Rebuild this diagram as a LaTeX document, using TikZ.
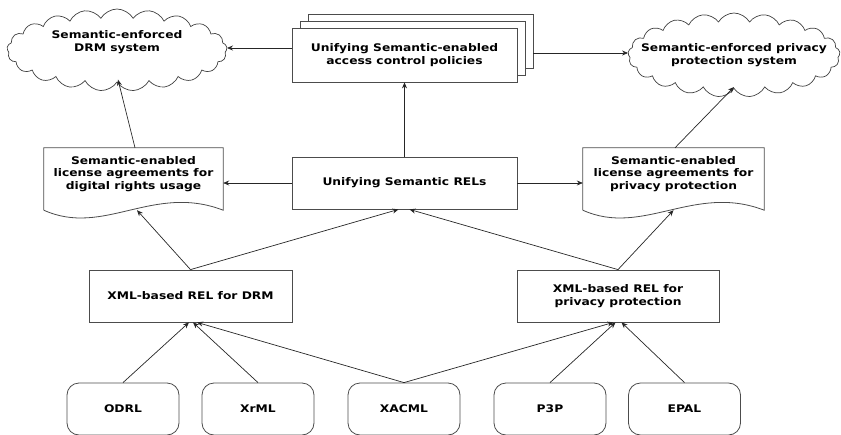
\documentclass[tikz,border=0pt]{standalone}
\usepackage{fontspec}
\setmainfont{DejaVu Sans}[FakeStretch=1.17]
\usetikzlibrary{shapes.symbols,arrows.meta,calc}
\begin{document}
\begin{tikzpicture}[x=1pt,y=-1pt,
  every node/.style={font=\bfseries\fontsize{10.5}{12.5}\selectfont, align=center, inner sep=0pt},
  box/.style={draw=black!70, line width=0.8pt, fill=white, minimum height=52pt},
  rbox/.style={draw=black!70, line width=0.8pt, rounded corners=12pt, minimum width=112pt, minimum height=52pt},
  cloudy/.style={cloud, draw=black!75, line width=0.7pt, cloud puffs=21, cloud puff arc=120, cloud ignores aspect},
  doc/.style={minimum height=62pt},
  docline/.style={draw=black!70, line width=0.8pt},
  arr/.style={draw=black!85, line width=0.7pt, -{Stealth[length=6pt,width=5pt]}},
  ln/.style={draw=black!85, line width=0.7pt}
]
\useasboundingbox (0,0) rectangle (841,434);

% clouds
\node[cloudy, minimum width=220pt, minimum height=82pt] (cl) at (117,50) {};
\node (clt) at (117,42) {Semantic-enforced\\DRM system};
\node[cloudy, minimum width=212pt, minimum height=84pt] (cr) at (734,55) {};
\node (crt) at (734,55) {Semantic-enforced privacy\\protection system};

% stack
\node[box, minimum width=225pt, minimum height=54pt] (stb) at (420.5,41) {};
\node[box, minimum width=225pt, minimum height=54pt] (stm) at (412.5,48) {};
\node[box, minimum width=225pt, minimum height=54pt] (st) at (404.5,55) {Unifying Semantic-enabled\\access control policies};

% center
\node[box, minimum width=225pt] (rels) at (404.5,183) {Unifying Semantic RELs};

% documents
\node[doc, minimum width=179pt] (docL) at (133.5,179) {};
\node (docLt) at (133.5,174) {Semantic-enabled\\license agreements for\\digital rights usage};
\draw[docline] (docL.south west) -- (docL.north west) -- (docL.north east) -- (docL.south east)
  .. controls +(-70,-27) and +(60,27) .. (docL.south west);
\node[doc, minimum width=181pt] (docR) at (673.5,179) {};
\node (docRt) at (673.5,174) {Semantic-enabled\\license agreements for\\privacy protection};
\draw[docline] (docR.south west) -- (docR.north west) -- (docR.north east) -- (docR.south east)
  .. controls +(-70,-27) and +(60,27) .. (docR.south west);

% XML boxes
\node[box, minimum width=203pt] (xd) at (190.5,296) {XML-based REL for DRM};
\node[box, minimum width=202pt] (xp) at (618,296) {XML-based REL for\\privacy protection};

% bottom
\node[rbox] (b1) at (123,409) {ODRL};
\node[rbox] (b2) at (258,409) {XrML};
\node[rbox] (b3) at (404,409) {XACML};
\node[rbox] (b4) at (550,409) {P3P};
\node[rbox] (b5) at (684.5,409) {EPAL};

% connectors
\draw[arr] ([yshift=7pt]st.west) -- ([yshift=7pt]st.west -| cl.east);
\draw[arr] ([yshift=-12pt]stb.east) -- ([yshift=-12pt]stb.east -| cr.west);
\draw[arr] (rels.north) -- (st.south);
\draw[arr] (rels.west) -- (rels.west -| docL.east);
\draw[arr] (rels.east) -- (rels.east -| docR.west);
\draw[arr] ([xshift=1.5pt]docL.north) -- ([xshift=1pt,yshift=3pt]cl.south);
\draw[arr] ([xshift=1.5pt]docR.north) -- ([yshift=2pt]cr.south);
\draw[arr] (xd.north) -- ([xshift=3.5pt]docL.south);
\draw[arr] (xd.north) -- ([xshift=-6pt]rels.south);
\draw[arr] (xp.north) -- ([xshift=5pt]rels.south);
\draw[arr] (xp.north) -- (docR.south);
\draw[arr] (b1.north) -- ([xshift=-1.5pt]xd.south);
\draw[arr] (b2.north) -- ([xshift=2.5pt]xd.south);
\draw[arr] (b3.north) -- ([xshift=6.5pt]xd.south);
\draw[arr] (b3.north) -- ([xshift=-4.5pt]xp.south);
\draw[arr] (b4.north) -- ([xshift=-2.5pt]xp.south);
\draw[arr] (b5.north) -- ([xshift=3.5pt]xp.south);
\end{tikzpicture}
\end{document}
